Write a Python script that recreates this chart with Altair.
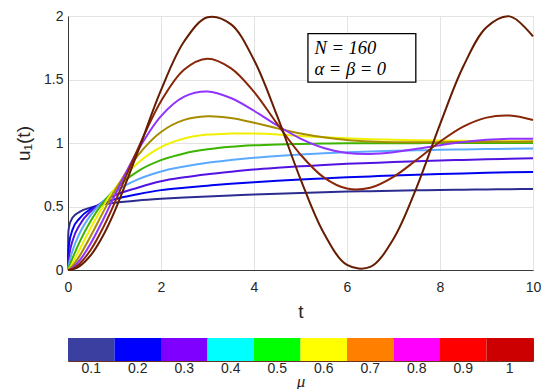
import altair as alt
import pandas as pd

# sample times
T = [0, 0.005, 0.02, 0.1, 0.25, 0.5, 0.75, 1, 1.5, 2, 2.5, 3, 3.5, 4, 4.5, 5,
     5.5, 6, 6.5, 7, 7.5, 8, 8.5, 9, 9.5, 10]

MU_LABELS = ["0.1", "0.2", "0.3", "0.4", "0.5", "0.6", "0.7", "0.8", "0.9", "1"]

U_01 = [0, 0.277, 0.336, 0.413, 0.458, 0.493, 0.515, 0.529, 0.548, 0.561, 0.571, 0.579, 0.586,
        0.594, 0.600, 0.606, 0.612, 0.618, 0.621, 0.624, 0.627, 0.630, 0.632, 0.634, 0.636, 0.638]
U_02 = [0, 0.122, 0.197, 0.320, 0.407, 0.483, 0.525, 0.556, 0.597, 0.629, 0.648, 0.664, 0.679,
        0.691, 0.702, 0.712, 0.721, 0.730, 0.737, 0.744, 0.750, 0.755, 0.760, 0.765, 0.769, 0.772]
U_03 = [0, 0.045, 0.099, 0.232, 0.355, 0.467, 0.537, 0.586, 0.648, 0.699, 0.730, 0.754, 0.774,
        0.792, 0.805, 0.816, 0.827, 0.836, 0.843, 0.850, 0.856, 0.862, 0.867, 0.872, 0.876, 0.880]
U_04 = [0, 0.015, 0.046, 0.154, 0.289, 0.438, 0.539, 0.613, 0.713, 0.776, 0.815, 0.845, 0.866,
        0.884, 0.898, 0.910, 0.919, 0.927, 0.933, 0.938, 0.942, 0.946, 0.949, 0.952, 0.955, 0.957]
U_05 = [0, 0.005, 0.020, 0.095, 0.221, 0.393, 0.528, 0.632, 0.777, 0.865, 0.918, 0.950, 0.970,
        0.982, 0.989, 0.993, 0.996, 0.998, 0.998, 0.999, 0.999, 1.0, 1.0, 1.0, 1.0, 1.0]
U_06 = [0, 0.002, 0.008, 0.056, 0.161, 0.338, 0.499, 0.637, 0.842, 0.968, 1.036, 1.066, 1.074,
        1.074, 1.067, 1.055, 1.045, 1.037, 1.030, 1.025, 1.021, 1.019, 1.017, 1.015, 1.014, 1.013]
U_07 = [0, 0.0005, 0.003, 0.032, 0.111, 0.276, 0.452, 0.620, 0.901, 1.087, 1.182, 1.210, 1.196,
        1.159, 1.115, 1.075, 1.045, 1.024, 1.012, 1.006, 1.005, 1.006, 1.008, 1.009, 1.010, 1.011]
U_08 = [0, 0.0001, 0.0013, 0.018, 0.075, 0.217, 0.393, 0.582, 0.940, 1.212, 1.365, 1.405, 1.354,
        1.254, 1.138, 1.035, 0.961, 0.921, 0.913, 0.927, 0.954, 0.983, 1.008, 1.025, 1.033, 1.033]
U_09 = [0, 0.0, 0.0005, 0.0095, 0.049, 0.165, 0.330, 0.526, 0.951, 1.329, 1.579, 1.664, 1.590,
        1.403, 1.150, 0.909, 0.729, 0.641, 0.648, 0.734, 0.868, 1.010, 1.129, 1.200, 1.216, 1.181]
U_10 = [0, 0.0, 0.0002, 0.005, 0.031, 0.122, 0.268, 0.460, 0.929, 1.416, 1.801, 1.990, 1.936,
        1.654, 1.211, 0.716, 0.291, 0.040, 0.024, 0.246, 0.653, 1.146, 1.602, 1.911, 1.997, 1.839]

SERIES = [U_01, U_02, U_03, U_04, U_05, U_06, U_07, U_08, U_09, U_10]

LINE_COLORS = ["#2c2c90", "#0000f0", "#5212e2", "#5caaff", "#3cb400",
               "#f0f000", "#a88c00", "#9133ff", "#8a2608", "#661c00"]
BAR_COLORS = ["#3a3fa0", "#0000ff", "#7f00ff", "#00ffff", "#00ff00",
              "#ffff00", "#ff8000", "#ff00ff", "#ff0000", "#cc0000"]

ANNOTATION = ["N = 160", "α = β = 0"]

rows = []
for k, (lab, ser) in enumerate(zip(MU_LABELS, SERIES)):
    for t, u in zip(T, ser):
        rows.append({"t": t, "u": u, "mu": lab, "k": k})
df = pd.DataFrame(rows)
df_low = df[df["k"] < 5]
df_high = df[df["k"] >= 5]

FONT = "Liberation Sans"
SERIF = "Liberation Serif"

x_enc = alt.X("t:Q", scale=alt.Scale(domain=[0, 10], nice=False),
              axis=alt.Axis(values=[0, 2, 4, 6, 8, 10], title="t", labelFontSize=14,
                            titleFontSize=19, labelPadding=10, titlePadding=8,
                            labelFlush=False, tickSize=0, grid=True))
y_enc = alt.Y("u:Q", scale=alt.Scale(domain=[0, 2], nice=False),
              axis=alt.Axis(values=[0, 0.5, 1, 1.5, 2], format="~g", title="u₁(t)",
                            labelFontSize=14, titleFontSize=19, labelPadding=5,
                            titlePadding=10, tickSize=0, grid=True))
col = alt.Color("mu:N", scale=alt.Scale(domain=MU_LABELS, range=LINE_COLORS), legend=None)

low = alt.Chart(df_low).mark_line(interpolate="monotone", strokeWidth=2).encode(
    x=x_enc, y=y_enc, color=col)
high = alt.Chart(df_high).mark_line(interpolate="catmull-rom", strokeWidth=2).encode(
    x="t:Q", y="u:Q", color=col)

box_df = pd.DataFrame([{"x1": 5.16, "x2": 7.48, "y1": 1.48, "y2": 1.861}])
box = alt.Chart(box_df).mark_rect(fill="white", stroke="black", strokeWidth=1.3).encode(
    x="x1:Q", x2="x2", y="y1:Q", y2="y2")

ann_df = pd.DataFrame({"x": [5.30, 5.30], "y": [1.70, 1.532], "s": ANNOTATION})
ann = alt.Chart(ann_df).mark_text(
    font=SERIF, fontSize=18.5, fontStyle="italic", align="left", baseline="alphabetic",
    color="black").encode(x="x:Q", y="y:Q", text="s:N")

main = alt.layer(low, high, box, ann).properties(
    width=465, height=254,
    view=alt.ViewBackground(stroke="#bdbdbd", strokeWidth=1))

bar_df = pd.DataFrame({"mu": MU_LABELS, "c": BAR_COLORS})
bar = alt.Chart(bar_df).mark_rect().encode(
    x=alt.X("mu:N", sort=MU_LABELS, scale=alt.Scale(paddingInner=0, paddingOuter=0),
            axis=alt.Axis(title="μ", labelAngle=0, ticks=False, domain=False,
                          labelFontSize=14, labelPadding=0, titleFontSize=17,
                          titleFontStyle="italic", titleFont=SERIF, titlePadding=-2)),
    color=alt.Color("c:N", scale=None, legend=None),
).properties(width=465, height=23,
             view=alt.ViewBackground(stroke="#6a3020", strokeWidth=1))

chart = alt.vconcat(main, bar, spacing=15).resolve_scale(color="independent").configure(
    font=FONT,
    padding={"left": 6, "top": 0, "right": 0, "bottom": 0},
).configure_axis(
    labelFont=FONT, titleFont=FONT, labelColor="#262626", titleColor="#262626",
    titleFontWeight="normal", gridColor="#e3e3e3", gridWidth=1,
    domainColor="#3a3a3a", domainWidth=1,
)

chart.save("out.html", embed_options={"renderer": "svg", "actions": False})
